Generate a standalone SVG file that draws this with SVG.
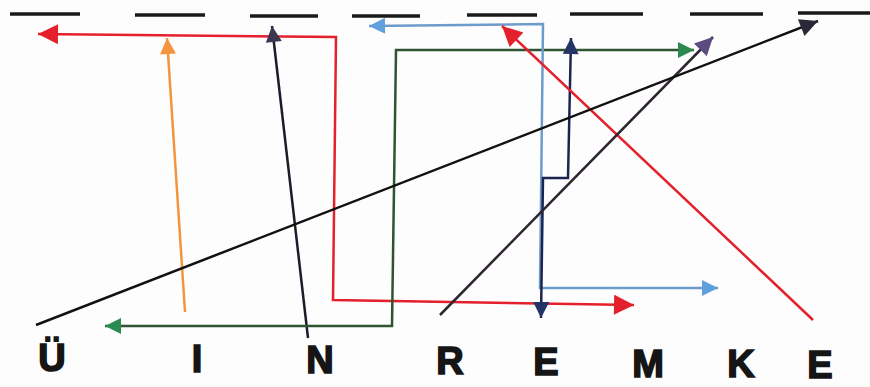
<svg xmlns="http://www.w3.org/2000/svg" width="870" height="387" viewBox="0 0 870 387">
<style>
.bg{fill:#fdfdfd}
.dash{stroke:#1a1a1a;stroke-width:3.5;fill:none}
.c{fill:none;stroke-width:2.5;stroke-linejoin:miter}
.lbl{font-family:"Liberation Sans",Arial,sans-serif;font-weight:bold;font-size:38px;fill:#151515;stroke:#151515;stroke-width:1.6;text-anchor:middle}
</style>
<defs>
<marker id="aRed" viewBox="0 0 10 10" refX="10" refY="5" markerWidth="22" markerHeight="20" markerUnits="userSpaceOnUse" orient="auto-start-reverse"><path d="M0,0L10,5L0,10z" fill="#e3202c"/></marker>
<marker id="aOrange" viewBox="0 0 10 10" refX="10" refY="5" markerWidth="18" markerHeight="16" markerUnits="userSpaceOnUse" orient="auto-start-reverse"><path d="M0,0L10,5L0,10z" fill="#f5943e"/></marker>
<marker id="aPurpleDark" viewBox="0 0 10 10" refX="10" refY="5" markerWidth="18" markerHeight="16" markerUnits="userSpaceOnUse" orient="auto-start-reverse"><path d="M0,0L10,5L0,10z" fill="#3e3550"/></marker>
<marker id="aGreen" viewBox="0 0 10 10" refX="10" refY="5" markerWidth="18" markerHeight="16" markerUnits="userSpaceOnUse" orient="auto-start-reverse"><path d="M0,0L10,5L0,10z" fill="#2a8a50"/></marker>
<marker id="aBlue" viewBox="0 0 10 10" refX="10" refY="5" markerWidth="18" markerHeight="16" markerUnits="userSpaceOnUse" orient="auto-start-reverse"><path d="M0,0L10,5L0,10z" fill="#5f9fdc"/></marker>
<marker id="aNavy" viewBox="0 0 10 10" refX="10" refY="5" markerWidth="18" markerHeight="16" markerUnits="userSpaceOnUse" orient="auto-start-reverse"><path d="M0,0L10,5L0,10z" fill="#243466"/></marker>
<marker id="aPurple" viewBox="0 0 10 10" refX="10" refY="5" markerWidth="20" markerHeight="18" markerUnits="userSpaceOnUse" orient="auto-start-reverse"><path d="M0,0L10,5L0,10z" fill="#5a4b80"/></marker>
<marker id="aBlack" viewBox="0 0 10 10" refX="10" refY="5" markerWidth="20" markerHeight="18" markerUnits="userSpaceOnUse" orient="auto-start-reverse"><path d="M0,0L10,5L0,10z" fill="#2a2838"/></marker>
</defs>
<rect class="bg" x="0" y="0" width="870" height="387"/>
<g id="top-dashes">
<line class="dash" x1="10" y1="14" x2="80" y2="14"/>
<line class="dash" x1="135" y1="15" x2="205" y2="15"/>
<line class="dash" x1="250" y1="16" x2="318" y2="16"/>
<line class="dash" x1="352" y1="16" x2="420" y2="16"/>
<line class="dash" x1="467" y1="15" x2="537" y2="15"/>
<line class="dash" x1="570" y1="14" x2="643" y2="14"/>
<line class="dash" x1="690" y1="14" x2="763" y2="14"/>
<line class="dash" x1="798" y1="13" x2="870" y2="13"/>
</g>
<g id="connectors">
<path class="c" stroke="#e3202c" stroke-width="2.8" d="M38,34 L336,37 L333,300 L634,305" marker-start="url(#aRed)" marker-end="url(#aRed)"/>
<path class="c" stroke="#f5943e" stroke-width="2" d="M185,312 L167,38" marker-end="url(#aOrange)"/>
<path class="c" stroke="#1e1a28" d="M308,338 L272,26" marker-end="url(#aPurpleDark)"/>
<path class="c" stroke="#2f5530" d="M105,326 L392,326 L396,50 L694,50" marker-start="url(#aGreen)" marker-end="url(#aGreen)"/>
<path class="c" stroke="#6d9ccc" d="M369,26 L543,24 L540,288 L718,288" marker-start="url(#aBlue)" marker-end="url(#aBlue)"/>
<path class="c" stroke="#1b2450" d="M571,38 L568,178 L543,178 L541,318" marker-start="url(#aNavy)" marker-end="url(#aNavy)"/>
<path class="c" stroke="#e3202c" d="M813,320 L502,26" marker-end="url(#aRed)"/>
<path class="c" stroke="#2e2530" d="M440,315 L713,37" marker-end="url(#aPurple)"/>
<path class="c" stroke="#111" stroke-width="3" d="M36,325 L818,21" marker-end="url(#aBlack)"/>
</g>
<g id="node-U"><text class="lbl" x="52" y="371">Ü</text></g>
<g id="node-I"><text class="lbl" x="197" y="372">I</text></g>
<g id="node-N"><text class="lbl" x="320" y="373">N</text></g>
<g id="node-R"><text class="lbl" x="450" y="374">R</text></g>
<g id="node-E1"><text class="lbl" x="546" y="375">E</text></g>
<g id="node-M"><text class="lbl" x="648" y="377">M</text></g>
<g id="node-K"><text class="lbl" x="741" y="377">K</text></g>
<g id="node-E2"><text class="lbl" x="820" y="378">E</text></g>
</svg>
